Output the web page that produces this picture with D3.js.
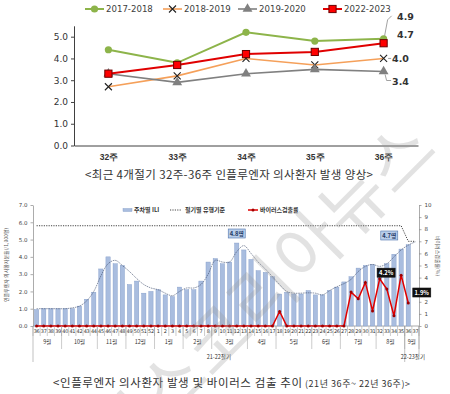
<!DOCTYPE html>
<html>
<head>
<meta charset="utf-8">
<title>influenza</title>
<script src="https://cdn.jsdelivr.net/npm/d3@7"></script>
<style>
body { margin: 0; background: #fff; }
svg { display: block; font-family: "Noto Sans CJK KR", "Noto Sans", sans-serif; }
.num { font-family: "DejaVu Sans", "Noto Sans CJK KR", sans-serif; }
</style>
</head>
<body>
<script>
// ---- top chart: last 4 seasons, weeks 32-36
var weeks = ["32주", "33주", "34주", "35주", "36주"];
var seasonNames = ["2017-2018", "2018-2019", "2019-2020", "2022-2023"];
var s1718 = [4.4, 3.8, 5.2, 4.8, 4.9];
var s1819 = [2.7, 3.2, 4.0, 3.7, 4.0];
var s1920 = [3.3, 2.9, 3.3, 3.5, 3.4];
var s2223 = [3.3, 3.7, 4.2, 4.3, 4.7];
var topTicks = [0, 1, 2, 3, 4, 5];

// ---- bottom chart: 21y wk36 ~ 22y wk37
var weekNo = [36,37,38,39,40,41,42,43,44,45,46,47,48,49,50,51,52,
  1,2,3,4,5,6,7,8,9,10,11,12,13,14,15,16,17,18,19,20,21,22,23,24,25,26,27,28,29,30,31,32,33,34,35,36,37];
var ili = [0.95,1.0,1.0,1.0,1.0,1.0,1.15,1.55,1.95,3.3,4.0,3.6,3.5,2.4,2.6,1.9,2.0,
  2.1,1.8,1.7,2.25,2.1,2.1,2.6,3.7,3.9,3.6,3.7,4.8,4.4,3.85,3.2,3.1,2.85,1.85,1.95,1.85,1.85,2.05,1.8,1.8,2.05,2.25,2.55,2.85,3.35,3.5,3.55,3.35,3.6,4.15,4.45,4.7,null];
var iliTrend = [1.0,1.0,1.0,1.0,1.0,1.05,1.15,1.45,2.0,2.9,3.6,3.8,3.5,3.15,2.75,2.4,2.2,
  2.1,1.9,1.75,2.0,2.2,2.2,2.4,3.0,3.8,3.7,3.7,4.3,4.65,4.2,3.7,3.3,2.85,2.4,2.0,1.9,1.9,1.92,1.9,1.8,2.05,2.27,2.45,2.7,3.15,3.45,3.56,3.45,3.6,4.0,4.4,4.68,4.87];
var virusRate = [0,0,0,0,0,0,0,0,0,0,0,0,0,0,0,0,0,
  0,0,0,0,0,0,0,0,0,0,0,0,0,0,0,0,0,1.2,0,0,0,0,0,0,0,0,0,2.8,2.25,3.6,1.25,3.9,3.05,0.85,4.2,1.9,null];
var seasonLabels = ["21-22절기", "22-23절기"];
var seasonWeeks = [52, 2];
var seasonThreshold = [5.8, 4.9];
var monthLabels = ["9월","10월","11월","12월","1월","2월","3월","4월","5월","6월","7월","8월","9월"];
var monthWeeks = [4,5,4,4,4,4,5,4,5,4,5,4,2];
var leftTicks = [0,1,2,3,4,5,6,7];
var rightTicks = [0,1,2,3,4,5,6,7,8,9,10];

var svg = d3.select("body").append("svg").attr("width", 450).attr("height", 394);

// ================= top chart =================
var xT = d3.scalePoint().domain(weeks).range([74, 418]).padding(0.5);
var yT = d3.scaleLinear().domain([0, 5.5]).range([145.5, 25.8]);

var gy = svg.append("g").attr("transform", "translate(74,0)")
  .call(d3.axisLeft(yT).tickValues(topTicks).tickFormat(d3.format(".1f")).tickSize(3).tickSizeOuter(0));
gy.selectAll("path,line").attr("stroke", "#404040");
gy.selectAll("text").attr("class", "num").attr("font-size", 9).attr("fill", "#333");

var gx = svg.append("g").attr("transform", "translate(0,145.5)")
  .call(d3.axisBottom(xT).tickSize(0).tickSizeOuter(0).tickPadding(8));
gx.select("path").attr("stroke", "#404040");
gx.selectAll("text").attr("font-size", 8.5).attr("font-weight", "bold").attr("fill", "#333");

var topSeries = [
  {name: seasonNames[0], values: s1718, color: "#8db44a", width: 2, marker: "circle"},
  {name: seasonNames[1], values: s1819, color: "#f5a05a", width: 1.6, marker: "x"},
  {name: seasonNames[2], values: s1920, color: "#808080", width: 1.6, marker: "triangle"},
  {name: seasonNames[3], values: s2223, color: "#e00000", width: 2, marker: "square"}
];

function drawMarker(g, type, color) {
  if (type === "circle") g.append("circle").attr("r", 3.6).attr("fill", color);
  else if (type === "x") {
    g.append("path").attr("d", "M-3.5,-3.5L3.5,3.5M-3.5,3.5L3.5,-3.5").attr("stroke", "#222").attr("stroke-width", 1.1);
  } else if (type === "triangle") {
    g.append("path").attr("d", d3.symbol(d3.symbolTriangle, 42)()).attr("fill", color);
  } else if (type === "square") {
    g.append("rect").attr("x", -3.6).attr("y", -3.6).attr("width", 7.2).attr("height", 7.2)
      .attr("fill", "#ff0000").attr("stroke", "#6b0000").attr("stroke-width", 1);
  }
}

var lineT = d3.line().x(function(d, i) { return xT(weeks[i]); }).y(function(d) { return yT(d); });

topSeries.forEach(function(s) {
  svg.append("path").datum(s.values).attr("d", lineT)
    .attr("fill", "none").attr("stroke", s.color).attr("stroke-width", s.width);
  s.values.forEach(function(v, i) {
    var g = svg.append("g").attr("transform", "translate(" + xT(weeks[i]) + "," + yT(v) + ")");
    drawMarker(g, s.marker, s.color);
  });
});

// legend (top)
var legX = [85, 163, 238, 323];
topSeries.forEach(function(s, i) {
  var x0 = legX[i];
  svg.append("line").attr("x1", x0).attr("x2", x0 + 19).attr("y1", 9).attr("y2", 9)
    .attr("stroke", s.color).attr("stroke-width", s.width);
  drawMarker(svg.append("g").attr("transform", "translate(" + (x0 + 9.5) + ",9)"), s.marker, s.color);
  svg.append("text").attr("class", "num").attr("x", x0 + 21).attr("y", 12.3)
    .attr("font-size", 8.6).attr("fill", "#404040").text(s.name);
});

// end-value labels at 36주
var xe = xT(weeks[4]);
var endLabels = [
  {v: s1718[4], dx: 13.5, y: yT(s1718[4]) - 22, lead: [[1, -3], [4, -19], [8, -23]]},
  {v: s2223[4], dx: 13.5, y: yT(s2223[4]) - 8.5, lead: null},
  {v: s1819[4], dx: 8.5, y: yT(s1819[4]) + 0, lead: [[4.5, 0], [7.5, 0]]},
  {v: s1920[4], dx: 8.5, y: yT(s1920[4]) + 9.5, lead: [[1.5, 3], [3, 9], [7.5, 9]]}
];
endLabels.forEach(function(l) {
  if (l.lead) {
    var base = l === endLabels[0] ? yT(s1718[4]) : (l === endLabels[2] ? yT(s1819[4]) : yT(s1920[4]));
    svg.append("path").attr("d", d3.line()(l.lead.map(function(p) { return [xe + p[0], base + p[1]]; })))
      .attr("fill", "none").attr("stroke", "#8a8a8a").attr("stroke-width", 0.8);
  }
  svg.append("text").attr("class", "num").attr("x", xe + l.dx).attr("y", l.y + 3.5)
    .attr("font-size", 9.5).attr("font-weight", "bold").attr("fill", "#333")
    .text(d3.format(".1f")(l.v));
});

svg.append("text").attr("x", 85).attr("y", 179).attr("font-size", 11.5).attr("fill", "#333")
  .attr("textLength", 288).attr("lengthAdjust", "spacing")
  .text("<최근 4개절기 32주-36주 인플루엔자 의사환자 발생 양상>");

// ================= bottom chart =================
var idx = d3.range(weekNo.length);
var xB = d3.scaleBand().domain(idx).range([33, 419]);
var bw = xB.bandwidth();
var yL = d3.scaleLinear().domain([0, 7]).range([326, 205]);
var yR = d3.scaleLinear().domain([0, 10]).range([326, 205]);
function cx(i) { return xB(i) + bw / 2; }

// threshold per week from season
var seasonOf = [];
seasonWeeks.forEach(function(n, s) { for (var k = 0; k < n; k++) seasonOf.push(s); });

var gl = svg.append("g").attr("transform", "translate(33,0)")
  .call(d3.axisLeft(yL).tickValues(leftTicks).tickFormat(d3.format(".1f")).tickSize(2.5).tickSizeOuter(0));
gl.selectAll("path,line").attr("stroke", "#888").attr("stroke-width", 0.7);
gl.selectAll("text").attr("font-size", 5.5).attr("fill", "#444").attr("class", "num");

var gr = svg.append("g").attr("transform", "translate(419,0)")
  .call(d3.axisRight(yR).tickValues(rightTicks).tickSize(2.5).tickSizeOuter(0));
gr.selectAll("path,line").attr("stroke", "#888").attr("stroke-width", 0.7);
gr.selectAll("text").attr("font-size", 5.5).attr("fill", "#444").attr("class", "num");

// baseline
svg.append("line").attr("x1", 33).attr("x2", 419).attr("y1", yL(0)).attr("y2", yL(0))
  .attr("stroke", "#888").attr("stroke-width", 0.7);

// bars
svg.append("g").selectAll("rect").data(idx.filter(function(i) { return ili[i] != null; })).join("rect")
  .attr("x", function(i) { return xB(i) + bw * 0.2; })
  .attr("width", bw * 0.6)
  .attr("y", function(i) { return yL(ili[i]); })
  .attr("height", function(i) { return yL(0) - yL(ili[i]); })
  .attr("fill", "#a9bddf").attr("stroke", "#7f99c7").attr("stroke-width", 0.4);

// seasonal threshold (dotted)
svg.append("path").datum(idx)
  .attr("d", d3.line().x(cx).y(function(i) { return yL(seasonThreshold[seasonOf[i]]); }))
  .attr("fill", "none").attr("stroke", "#444").attr("stroke-width", 1).attr("stroke-dasharray", "1.2,1.2");

// weekly trend line
svg.append("path").datum(idx)
  .attr("d", d3.line().x(cx).y(function(i) { return yL(iliTrend[i]); }).curve(d3.curveCatmullRom))
  .attr("fill", "none").attr("stroke", "#3f4d6b").attr("stroke-width", 0.6).attr("stroke-dasharray", "1.6,0.8");

// virus detection rate
var vIdx = idx.filter(function(i) { return virusRate[i] != null; });
svg.append("path").datum(vIdx)
  .attr("d", d3.line().x(cx).y(function(i) { return yR(virusRate[i]); }))
  .attr("fill", "none").attr("stroke", "#e00000").attr("stroke-width", 1.5);
svg.append("g").selectAll("circle").data(vIdx).join("circle")
  .attr("cx", cx).attr("cy", function(i) { return yR(virusRate[i]); })
  .attr("r", 1.5).attr("fill", "#a00000");

// week row
var gw = svg.append("g");
gw.selectAll("text").data(idx).join("text").attr("class", "num")
  .attr("x", cx).attr("y", 333).attr("text-anchor", "middle")
  .attr("font-size", 5).attr("fill", "#333").attr("letter-spacing", -0.3)
  .text(function(i) { return weekNo[i]; });
gw.selectAll("line").data(idx.concat([weekNo.length])).join("line")
  .attr("x1", function(i) { return i < weekNo.length ? xB(i) : 419; })
  .attr("x2", function(i) { return i < weekNo.length ? xB(i) : 419; })
  .attr("y1", 326).attr("y2", 336).attr("stroke", "#999").attr("stroke-width", 0.5);

// month row
var acc = 0;
monthLabels.forEach(function(m, k) {
  var a = acc, b = acc + monthWeeks[k];
  var xa = xB(a), xb2 = b < weekNo.length ? xB(b) : 419;
  svg.append("text").attr("x", (xa + xb2) / 2).attr("y", 344).attr("text-anchor", "middle")
    .attr("font-size", 5.5).attr("fill", "#333").text(m);
  svg.append("line").attr("x1", xb2).attr("x2", xb2).attr("y1", 326).attr("y2", 349)
    .attr("stroke", "#999").attr("stroke-width", 0.5);
  acc = b;
});

// season row
acc = 0;
svg.append("line").attr("x1", 33).attr("x2", 33).attr("y1", 326).attr("y2", 362)
  .attr("stroke", "#999").attr("stroke-width", 0.6);
seasonLabels.forEach(function(s, k) {
  var a = acc, b = acc + seasonWeeks[k];
  var xa = xB(a), xb2 = b < weekNo.length ? xB(b) : 419;
  svg.append("text").attr("x", k === 0 ? (xa + xb2) / 2 : (xa + xb2) / 2 + 1).attr("y", 359)
    .attr("text-anchor", "middle").attr("font-size", 5.5).attr("fill", "#333").text(s);
  svg.append("line").attr("x1", xb2).attr("x2", xb2).attr("y1", 326).attr("y2", k === 0 ? 362 : 354)
    .attr("stroke", "#999").attr("stroke-width", 0.6);
  acc = b;
});

// value boxes
function box(x, y, w, txt, fill, stroke, color) {
  svg.append("rect").attr("x", x - w / 2).attr("y", y - 4.5).attr("width", w).attr("height", 9)
    .attr("fill", fill).attr("stroke", stroke).attr("stroke-width", 0.6);
  svg.append("text").attr("x", x).attr("y", y + 2).attr("text-anchor", "middle")
    .attr("font-size", 5.8).attr("font-weight", "bold").attr("fill", color).text(txt);
}
var peak1 = 28, last = 52, vPeak = 51;
box(cx(peak1), 233.5, 17, d3.format(".1f")(ili[peak1]) + "명", "#b8cde9", "#4f74ad", "#1f3864");
box(cx(last) - 19, 235.5, 17, d3.format(".1f")(ili[last]) + "명", "#b8cde9", "#4f74ad", "#1f3864");
box(cx(vPeak) - 15, yR(virusRate[vPeak]) - 2.5, 18, d3.format(".1f")(virusRate[vPeak]) + "%", "#111", "#111", "#fff");
box(cx(last) + 13.5, yR(virusRate[last]) - 10.5, 18, d3.format(".1f")(virusRate[last]) + "%", "#111", "#111", "#fff");

// legend (bottom)
svg.append("rect").attr("x", 123).attr("y", 208.5).attr("width", 9).attr("height", 3)
  .attr("fill", "#a9bddf").attr("stroke", "#7f99c7").attr("stroke-width", 0.4);
svg.append("text").attr("x", 134).attr("y", 212.3).attr("font-size", 6).attr("font-weight", "bold").attr("fill", "#333").text("주차별 ILI");
svg.append("line").attr("x1", 170).attr("x2", 182).attr("y1", 210).attr("y2", 210)
  .attr("stroke", "#444").attr("stroke-dasharray", "1.2,1.2");
svg.append("text").attr("x", 185).attr("y", 212.3).attr("font-size", 6).attr("font-weight", "bold").attr("fill", "#333").text("절기별 유행기준");
svg.append("line").attr("x1", 248).attr("x2", 258).attr("y1", 210).attr("y2", 210)
  .attr("stroke", "#e00000").attr("stroke-width", 1.5);
svg.append("circle").attr("cx", 253).attr("cy", 210).attr("r", 1.5).attr("fill", "#a00000");
svg.append("text").attr("x", 260).attr("y", 212.3).attr("font-size", 6).attr("font-weight", "bold").attr("fill", "#333").text("바이러스검출률");

// axis titles
svg.append("text").attr("transform", "translate(8,265) rotate(-90)").attr("text-anchor", "middle")
  .attr("font-size", 5).attr("fill", "#555").text("인플루엔자 의사환자분율(/1,000명)");
svg.append("text").attr("transform", "translate(436,256) rotate(90)").attr("text-anchor", "middle")
  .attr("font-size", 5).attr("fill", "#555").text("바이러스검출률(%)");

// caption
var cap = svg.append("text").attr("y", 387).attr("fill", "#333");
cap.append("tspan").attr("x", 53).attr("font-size", 11.5).attr("textLength", 249).attr("lengthAdjust", "spacing")
  .text("<인플루엔자 의사환자 발생 및 바이러스 검출 추이");
cap.append("tspan").attr("x", 305).attr("font-size", 9).attr("textLength", 105).attr("lengthAdjust", "spacing")
  .text("(21년 36주~ 22년 36주)>");

// watermark
svg.append("text").attr("transform", "translate(440,152) rotate(-45)").attr("text-anchor", "end")
  .attr("font-size", 70).attr("fill", "#9a9a9a").attr("opacity", 0.28).text("헬스코리아뉴스");
</script>
</body>
</html>
